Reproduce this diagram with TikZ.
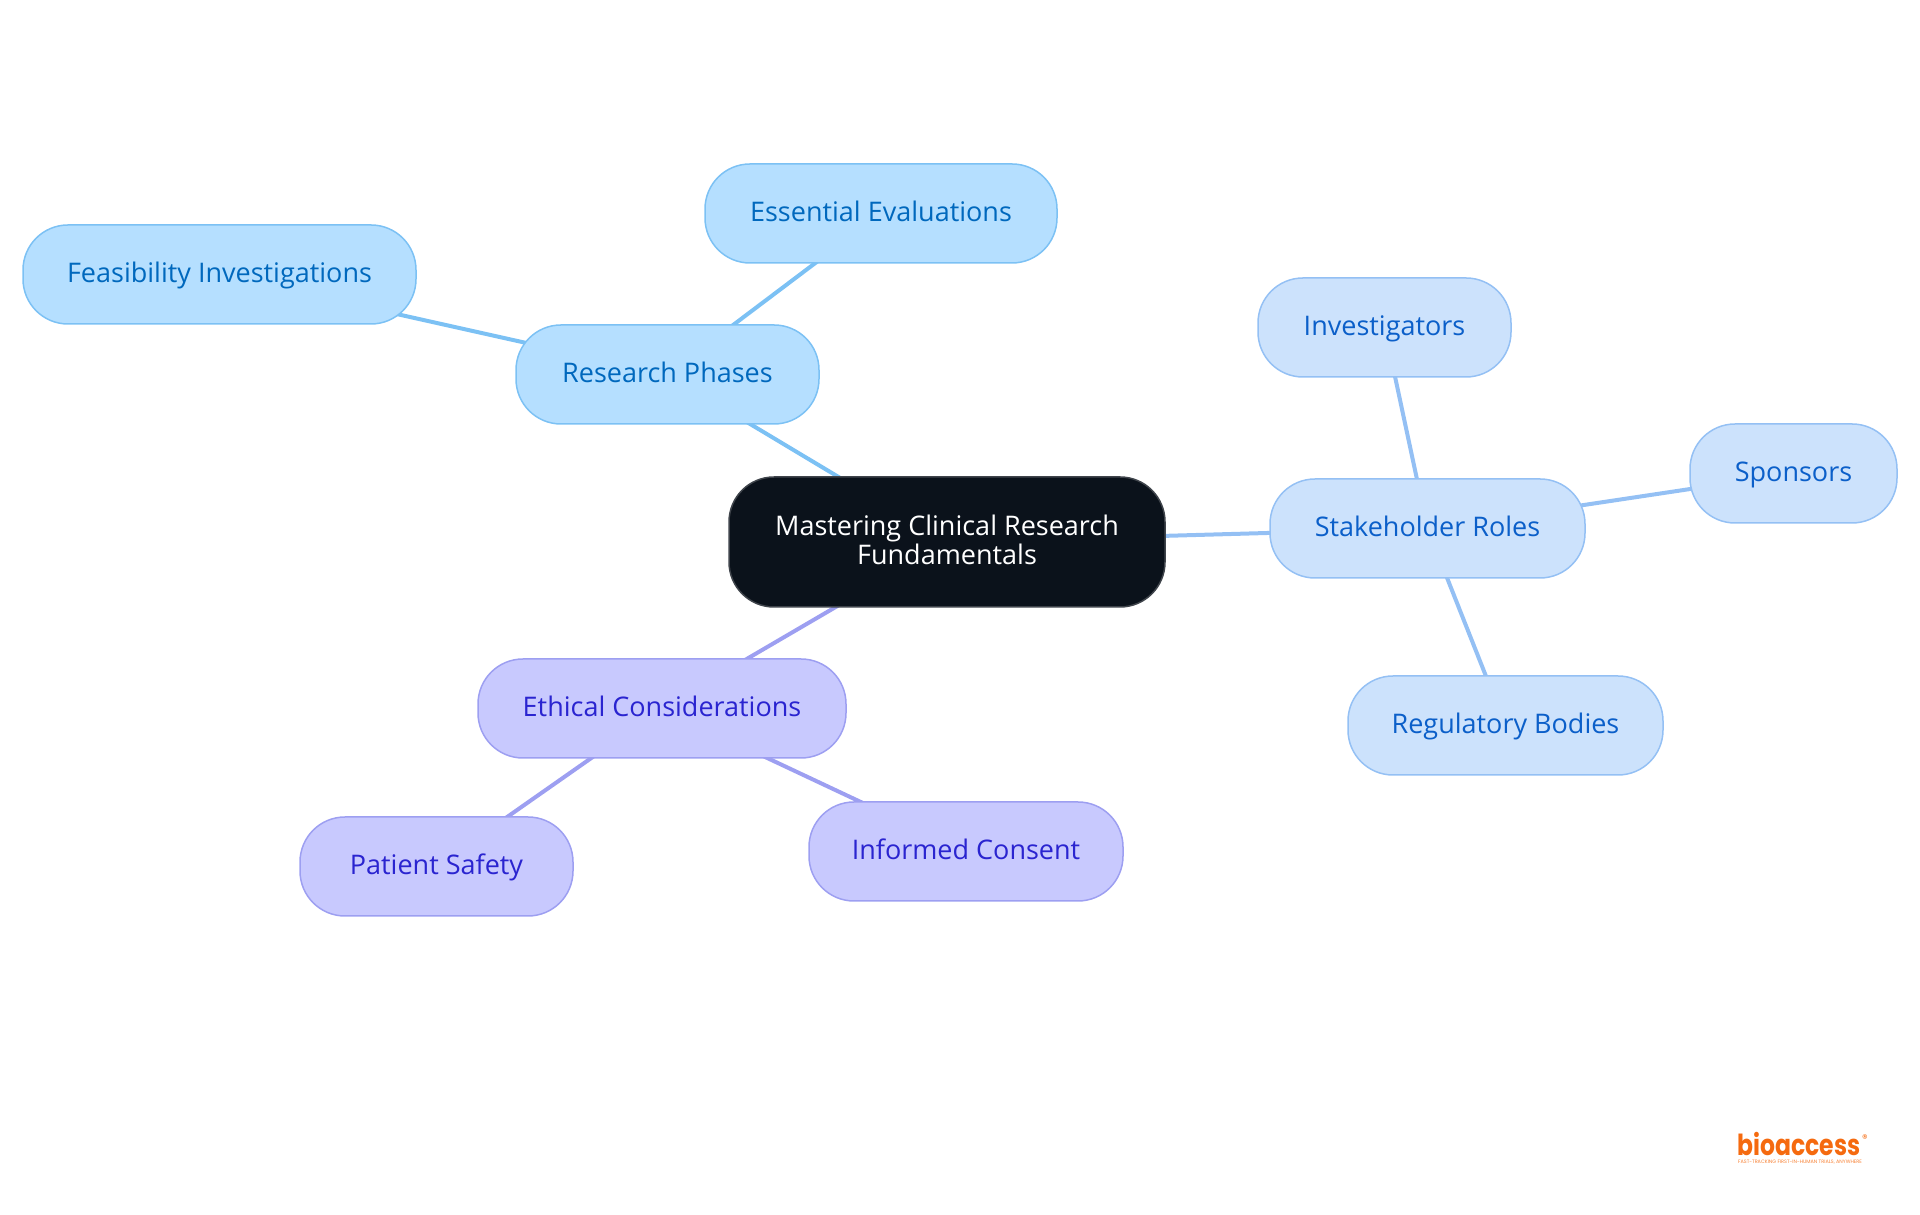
\documentclass[tikz,border=0pt]{standalone}
\usepackage{fontspec}
\setmainfont{Open Sans}
\newfontfamily\logofont{Poppins}
\usetikzlibrary{positioning,backgrounds}
\definecolor{rootfill}{HTML}{0B121B}
\definecolor{rootline}{HTML}{3F444B}
\definecolor{phasefill}{HTML}{B5DFFF}
\definecolor{phaseline}{HTML}{7CC1F4}
\definecolor{phasetext}{HTML}{0068BD}
\definecolor{rolefill}{HTML}{CCE2FC}
\definecolor{roleline}{HTML}{94C0F4}
\definecolor{roletext}{HTML}{0B5FC9}
\definecolor{ethicsfill}{HTML}{C8C9FE}
\definecolor{ethicsline}{HTML}{9D9FF1}
\definecolor{ethicstext}{HTML}{2A24D0}
\definecolor{logoorange}{HTML}{F56A0F}
\tikzset{
    %Define style for boxes
    topic/.style={
           rectangle,
           rounded corners=45pt,
           line width=1.5pt,
           minimum height=99pt,
           inner sep=0pt,
           outer sep=0pt,
           text height=21pt,
           text depth=5pt,
           align=center,
           font=\fontsize{27}{29.5}\selectfont},
    root node/.style={topic, draw=rootline, fill=rootfill, text=white,
           text height=51pt,
           minimum width=436pt, minimum height=130pt},
    phase/.style={topic, draw=phaseline, fill=phasefill, text=phasetext},
    role/.style={topic, draw=roleline, fill=rolefill, text=roletext},
    ethics/.style={topic, draw=ethicsline, fill=ethicsfill, text=ethicstext},
    % Define line style
    link/.style={line width=4pt}
}
\begin{document}
\begin{tikzpicture}[x=1pt,y=1pt]
\useasboundingbox (0,0) rectangle (1920,1215);
\node[root node](root) at (947,673){Mastering Clinical Research\\Fundamentals};
\node[phase, minimum width=303pt, above left=53pt and -90pt of root](research){Research Phases};
\node[phase, minimum width=393pt, above left=1pt and 100pt of research](feasibility){Feasibility Investigations};
\node[phase, minimum width=352pt, above right=62pt and -114pt of research](essential){Essential Evaluations};
\node[role, minimum width=315pt, above right=-101pt and 105pt of root](stakeholder){Stakeholder Roles};
\node[role, minimum width=253pt, above left=102pt and -241pt of stakeholder](investigators){Investigators};
\node[role, minimum width=207pt, above right=-44pt and 105pt of stakeholder](sponsors){Sponsors};
\node[role, minimum width=315pt, below right=98pt and -237pt of stakeholder](regulatory){Regulatory Bodies};
\node[ethics, minimum width=368pt, below left=52pt and -117pt of root](ethical){Ethical Considerations};
\node[ethics, minimum width=273pt, below left=59pt and -95pt of ethical](patient){Patient Safety};
\node[ethics, minimum width=314pt, below right=44pt and -37pt of ethical](informed){Informed Consent};
% logo
\node[text=logoorange, inner sep=0pt, anchor=base, xscale=.81, text depth=0pt, font=\logofont\bfseries\fontsize{29}{29}\selectfont](logo) at (1799,59.5){bioaccess};
\node[text=logoorange, inner sep=0pt, font=\logofont\fontsize{11}{11}\selectfont](registered) at (1865,76){®};
\node[text=logoorange!85, inner sep=0pt, font=\logofont\fontsize{4.9}{5}\selectfont](tagline) at (1800,52.5){FAST-TRACKING FIRST-IN-HUMAN TRIALS, ANYWHERE};
\begin{scope}[on background layer]
\draw[link, phaseline] (root.center) -- (research.center);
\draw[link, phaseline] (research.center) -- (feasibility.center);
\draw[link, phaseline] (research.center) -- (essential.center);
\draw[link, roleline] (root.center) -- (stakeholder.center);
\draw[link, roleline] (stakeholder.center) -- (investigators.center);
\draw[link, roleline] (stakeholder.center) -- (sponsors.center);
\draw[link, roleline] (stakeholder.center) -- (regulatory.center);
\draw[link, ethicsline] (root.center) -- (ethical.center);
\draw[link, ethicsline] (ethical.center) -- (patient.center);
\draw[link, ethicsline] (ethical.center) -- (informed.center);
\end{scope}
\end{tikzpicture}
\end{document}
